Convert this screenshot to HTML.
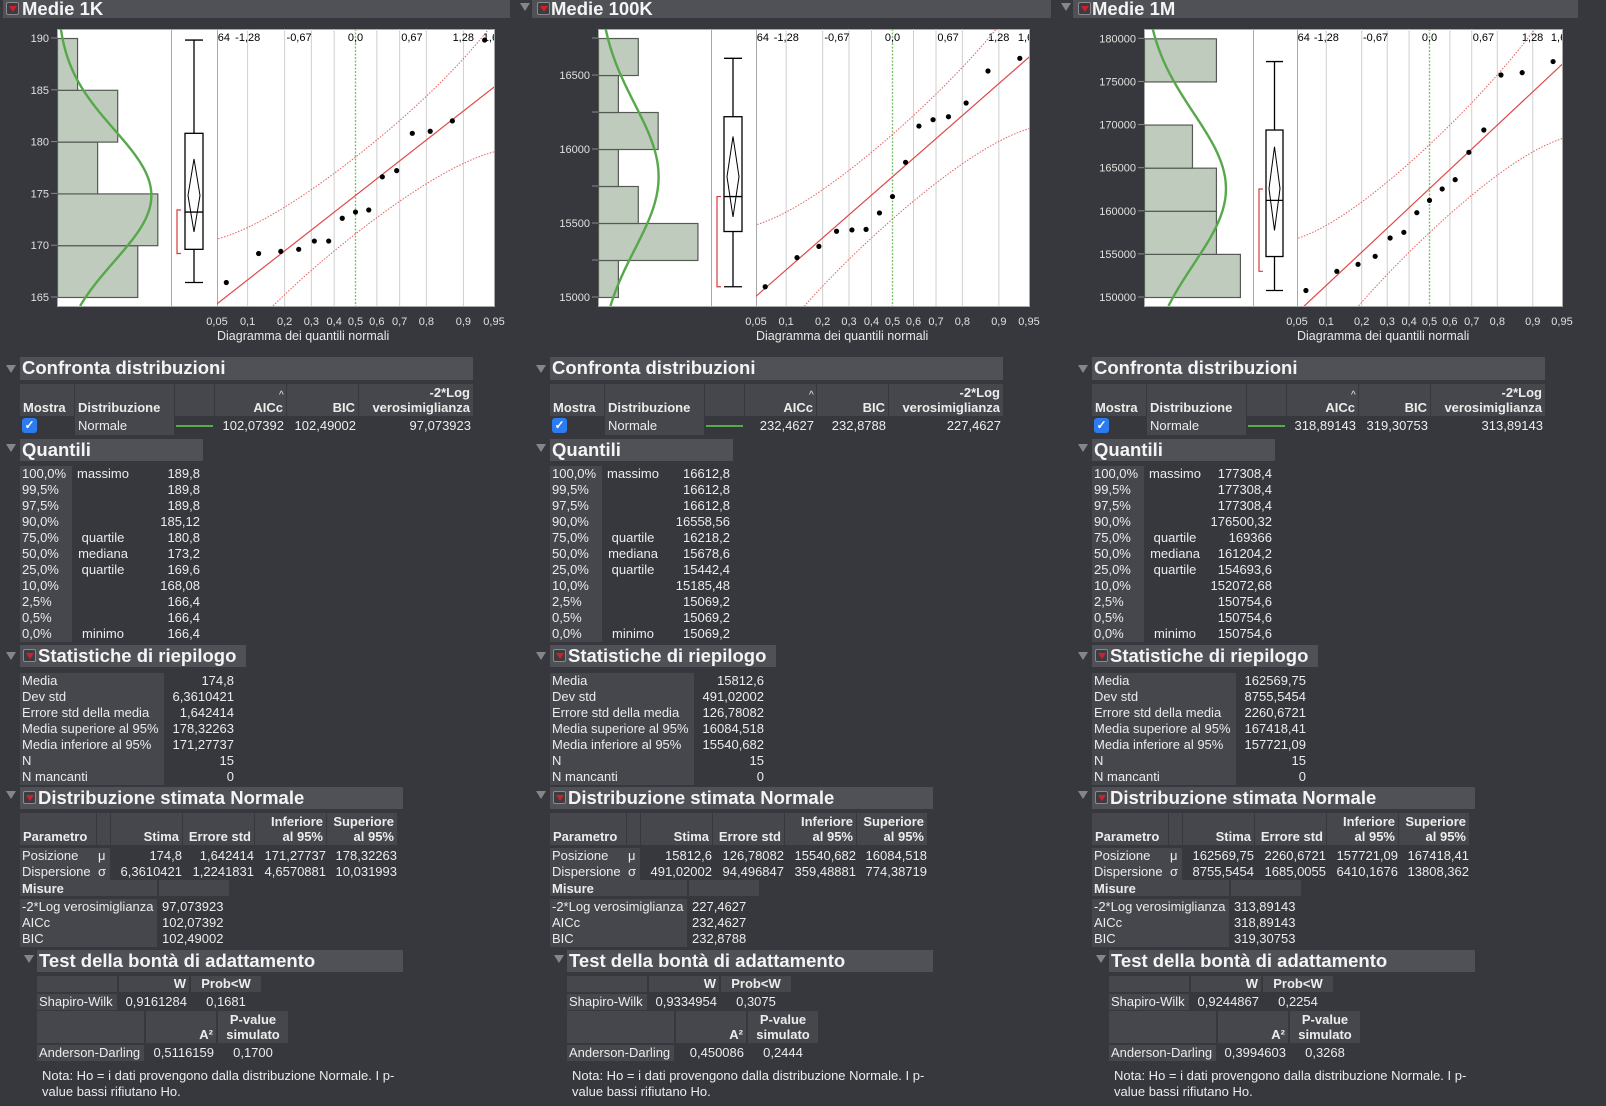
<!DOCTYPE html>
<html><head><meta charset="utf-8">
<style>
html,body{margin:0;padding:0;background:#37383d;width:1606px;height:1106px;overflow:hidden}
#root{position:relative;width:1606px;height:1106px}
svg#chart{position:absolute;left:0;top:0}
.a{position:absolute;box-sizing:border-box;white-space:nowrap;font:13px/16px "Liberation Sans",sans-serif;color:#ececec}
.hb{background:#505157;font-weight:bold;font-size:18.5px;line-height:22px;padding-left:2px;color:#f4f4f4}
.tb{background:#505157;font-weight:bold;font-size:18.5px;line-height:18px;padding-left:19px;color:#f4f4f4}
.hc{background:#46474c;font-weight:bold;display:flex;flex-direction:column;justify-content:flex-end;line-height:15px;padding:0 3px 1px 3px}
.lc{background:#46474c;padding-left:2px}
.r{text-align:right}.c{text-align:center}
.tri{width:0;height:0;border-left:5px solid transparent;border-right:5px solid transparent;border-top:8px solid #85868a}
.ico{border:1px solid #8a8a8e;background:#3c3c40;border-radius:2px}
.ico:after{content:"";position:absolute;left:2px;top:3px;border-left:4px solid transparent;border-right:4px solid transparent;border-top:6px solid #d0202a}
.chk{background:#2b7cf0;border-radius:3px;color:#fff;font-size:12px;line-height:14px;text-align:center;font-weight:bold}
</style></head>
<body>
<div id="root">
<svg id="chart" width="1606" height="1106"></svg>
</div>
<script>
// ---- data ----
const values1K = [166.4,169.2,169.4,169.6,170.4,170.4,172.6,173.2,173.4,176.6,177.2,180.8,181.0,182.0,189.8];
const values100K = [15069.2,15266,15342,15444,15453,15457,15568,15678.6,15910,16155,16198,16218.2,16311,16527,16612.8];
const values1M = [150754.6,152980,153790,154720,156840,157500,159780,161204.2,162530,163610,166780,169366,175750,176020,177308.4];
const yTicks1K = [165,170,175,180,185,190];
const yTicks100K = [15000,15500,16000,16500];
const yTicks1M = [150000,155000,160000,165000,170000,175000,180000];
const box1K = [166.4,169.6,173.2,180.8,189.8];
const box100K = [15069.2,15442.4,15678.6,16218.2,16612.8];
const box1M = [150754.6,154693.6,161204.2,169366,177308.4];
const ci1K = [171.27737,174.8,178.32263];
const ci100K = [15540.682,15812.6,16084.518];
const ci1M = [157721.09,162569.75,167418.41];
const fit1K = [174.8,6.3610421];
const fit100K = [15812.6,491.02002];
const fit1M = [162569.75,8755.5454];
const probTicks = [0.05,0.1,0.2,0.3,0.4,0.5,0.6,0.7,0.8,0.9,0.95];
const probLabels = ['0,05','0,1','0,2','0,3','0,4','0,5','0,6','0,7','0,8','0,9','0,95'];
const zTicks = [-1.64,-1.28,-0.67,0,0.67,1.28,1.64];
const zLabels = ['-1,64','-1,28','-0,67','0,0','0,67','1,28','1,64'];

const titles = ['Medie 1K','Medie 100K','Medie 1M'];
const quantPct = ['100,0%','99,5%','97,5%','90,0%','75,0%','50,0%','25,0%','10,0%','2,5%','0,5%','0,0%'];
const quantLbl = ['massimo','','','','quartile','mediana','quartile','','','','minimo'];
const quant1K = ['189,8','189,8','189,8','185,12','180,8','173,2','169,6','168,08','166,4','166,4','166,4'];
const quant100K = ['16612,8','16612,8','16612,8','16558,56','16218,2','15678,6','15442,4','15185,48','15069,2','15069,2','15069,2'];
const quant1M = ['177308,4','177308,4','177308,4','176500,32','169366','161204,2','154693,6','152072,68','150754,6','150754,6','150754,6'];
const statLbl = ['Media','Dev std','Errore std della media','Media superiore al 95%','Media inferiore al 95%','N','N mancanti'];
const stat1K = ['174,8','6,3610421','1,642414','178,32263','171,27737','15','0'];
const stat100K = ['15812,6','491,02002','126,78082','16084,518','15540,682','15','0'];
const stat1M = ['162569,75','8755,5454','2260,6721','167418,41','157721,09','15','0'];
const cmp1K = ['102,07392','102,49002','97,073923'];
const cmp100K = ['232,4627','232,8788','227,4627'];
const cmp1M = ['318,89143','319,30753','313,89143'];
const pos1K = ['174,8','1,642414','171,27737','178,32263'];
const disp1K = ['6,3610421','1,2241831','4,6570881','10,031993'];
const pos100K = ['15812,6','126,78082','15540,682','16084,518'];
const disp100K = ['491,02002','94,496847','359,48881','774,38719'];
const pos1M = ['162569,75','2260,6721','157721,09','167418,41'];
const disp1M = ['8755,5454','1685,0055','6410,1676','13808,362'];
const sw1K = ['0,9161284','0,1681'];
const sw100K = ['0,9334954','0,3075'];
const sw1M = ['0,9244867','0,2254'];
const ad1K = ['0,5116159','0,1700'];
const ad100K = ['0,450086','0,2444'];
const ad1M = ['0,3994603','0,3268'];

// ---- layout ----
const Y0 = 29, Y1 = 306;
const layouts = [
 {fl:57, hr:171, br:217, fr:494, bx0:185, bx1:203, bk:177, yMin:164.13, yMax:190.87, bin0:165, binW:5, minor:0, hx:3, hw:507, ix:6},
 {fl:598, hr:711, br:756, fr:1029, bx0:724, bx1:742, bk:717, yMin:14939, yMax:16811, bin0:15000, binW:250, minor:250, hx:532, hw:519, ix:537},
 {fl:1144, hr:1253, br:1297, fr:1562, bx0:1266, bx1:1283, bk:1259, yMin:148956, yMax:181083, bin0:150000, binW:5000, minor:0, hx:1073, hw:505, ix:1078}
];

function qnorm(p){
 const a=[-3.969683028665376e+01,2.209460984245205e+02,-2.759285104469687e+02,1.383577518672690e+02,-3.066479806614716e+01,2.506628277459239e+00];
 const b=[-5.447609879822406e+01,1.615858368580409e+02,-1.556989798598866e+02,6.680131188771972e+01,-1.328068155288572e+01];
 const c=[-7.784894002430293e-03,-3.223964580411365e-01,-2.400758277161838e+00,-2.549732539343734e+00,4.374664141464968e+00,2.938163982698783e+00];
 const d=[7.784695709041462e-03,3.224671290700398e-01,2.445134137142996e+00,3.754408661907416e+00];
 const pl=0.02425;
 if(p<pl){const q=Math.sqrt(-2*Math.log(p));return (((((c[0]*q+c[1])*q+c[2])*q+c[3])*q+c[4])*q+c[5])/((((d[0]*q+d[1])*q+d[2])*q+d[3])*q+1);}
 if(p<=1-pl){const q=p-0.5,r=q*q;return (((((a[0]*r+a[1])*r+a[2])*r+a[3])*r+a[4])*r+a[5])*q/(((((b[0]*r+b[1])*r+b[2])*r+b[3])*r+b[4])*r+1);}
 const q=Math.sqrt(-2*Math.log(1-p));return -(((((c[0]*q+c[1])*q+c[2])*q+c[3])*q+c[4])*q+c[5])/((((d[0]*q+d[1])*q+d[2])*q+d[3])*q+1);
}
const NS='http://www.w3.org/2000/svg';
const svg=document.getElementById('chart');
function S(tag,attrs,parent){const e=document.createElementNS(NS,tag);for(const k in attrs)e.setAttribute(k,attrs[k]);(parent||svg).appendChild(e);return e;}
const defs=S('defs',{});

function drawChart(i, L, values, yTicks, box, ci, fit){
 const g=S('g',{});
 
 
 const yS=v=>Y0+(L.yMax-v)/(L.yMax-L.yMin)*(Y1-Y0);
 const zMax=qnorm(0.95), zMin=qnorm(0.05);
 const xZ=z=>L.br+(z-zMin)/(zMax-zMin)*(L.fr-L.br);
 const cpF=S('clipPath',{id:'cf'+i},defs); S('rect',{x:L.fl,y:Y0,width:L.fr-L.fl,height:Y1-Y0},cpF);
 const cpQ=S('clipPath',{id:'cq'+i},defs); S('rect',{x:L.br,y:Y0,width:L.fr-L.br,height:Y1-Y0},cpQ);
 const frame=S('rect',{x:L.fl+0.5,y:Y0+0.5,width:L.fr-L.fl,height:Y1-Y0,fill:'#fff',stroke:'#a8a8a8'},g);
 
 
 const n=values.length, nb=Math.ceil((Math.max(...values)-L.bin0)/L.binW);
 const counts=new Array(nb).fill(0);
 values.forEach(v=>{let k=Math.floor((v-L.bin0)/L.binW);if(k>=nb)k=nb-1;if(k<0)k=0;counts[k]++;});
 const cPx=0.88*(L.hr-L.fl)/Math.max(...counts);
 const hg=S('g',{'clip-path':'url(#cf'+i+')'},g);
 counts.forEach((c,k)=>{ if(!c) return;
  const r=S('rect',{x:L.fl+0.5,y:yS(L.bin0+(k+1)*L.binW)+0.5,width:c*cPx,height:yS(L.bin0+k*L.binW)-yS(L.bin0+(k+1)*L.binW),fill:'#bfcbbd',stroke:'#555a55','stroke-width':1.2},hg);
  
  
 });
 let d='';
 for(let t=0;t<=120;t++){const v=L.yMin+(L.yMax-L.yMin)*t/120;const pdf=Math.exp(-0.5*((v-fit[0])/fit[1])**2)/(fit[1]*Math.sqrt(2*Math.PI));
  d+=(t?'L':'M')+(L.fl+cPx*n*L.binW*pdf).toFixed(2)+','+yS(v).toFixed(2);}
 const nc=S('path',{d:d,fill:'none',stroke:'#56a84a','stroke-width':2.4},hg);
 
 
 S('line',{x1:L.hr+0.5,x2:L.hr+0.5,y1:Y0,y2:Y1,stroke:'#a8a8a8'},g);
 S('line',{x1:L.br+0.5,x2:L.br+0.5,y1:Y0,y2:Y1,stroke:'#a8a8a8'},g);
 yTicks.forEach(t=>{const y=yS(t);
  S('line',{x1:L.fl-6,x2:L.fl,y1:y,y2:y,stroke:'#8a8a8a'},g);
  const tx=S('text',{x:L.fl-8,y:y+4,'text-anchor':'end','font-size':11,fill:'#e0e0e0','font-family':'Liberation Sans, sans-serif'},g);
  tx.textContent=t;  
  if(L.minor){const ym=yS(t+L.minor); if(ym>Y0) S('line',{x1:L.fl-6,x2:L.fl,y1:ym,y2:ym,stroke:'#8a8a8a'},g);
   const ym2=yS(t-L.minor); if(t===yTicks[0]&&ym2<Y1) S('line',{x1:L.fl-6,x2:L.fl,y1:ym2,y2:ym2,stroke:'#8a8a8a'},g);}
 });
 const bc=(L.bx0+L.bx1)/2, bg=S('g',{stroke:'#000','stroke-width':1.3,fill:'none'},g);
 
 
 S('line',{x1:bc,x2:bc,y1:yS(box[0]),y2:yS(box[1])},bg);
 S('line',{x1:bc,x2:bc,y1:yS(box[3]),y2:yS(box[4])},bg);
 S('line',{x1:L.bx0,x2:L.bx1,y1:yS(box[0]),y2:yS(box[0])},bg);
 S('line',{x1:L.bx0,x2:L.bx1,y1:yS(box[4]),y2:yS(box[4])},bg);
 S('rect',{x:L.bx0,y:yS(box[3]),width:L.bx1-L.bx0,height:yS(box[1])-yS(box[3])},bg);
 S('line',{x1:L.bx0,x2:L.bx1,y1:yS(box[2]),y2:yS(box[2])},bg);
 S('path',{d:`M${bc},${yS(ci[2])}L${L.bx1-3},${yS(ci[1])}L${bc},${yS(ci[0])}L${L.bx0+3},${yS(ci[1])}Z`,'stroke-width':1},bg);
 const sv=[...values].sort((a,b)=>a-b), h=Math.ceil(n/2); let best=0;
 for(let k=0;k+h-1<n;k++) if(sv[k+h-1]-sv[k]<sv[best+h-1]-sv[best]) best=k;
 const sh=S('path',{d:`M${L.bk+4},${yS(sv[best+h-1])}H${L.bk}V${yS(sv[best])}H${L.bk+4}`,fill:'none',stroke:'#d83a3a','stroke-width':1.2},g);
 
 
 probTicks.forEach(p=>{ if(p<0.07||p>0.93) return; const x=xZ(qnorm(p));
  S('line',{x1:x,x2:x,y1:Y0,y2:Y1,stroke:p===0.5?'none':'#cfcfcf'},g);});
 S('line',{x1:xZ(0),x2:xZ(0),y1:Y0,y2:Y1,stroke:'#7cc36e','stroke-dasharray':'2,1.5','stroke-width':1.4},g);
 const qg=S('g',{'clip-path':'url(#cq'+i+')'},g);
 
 
 zTicks.forEach((z,k)=>{const t=S('text',{x:xZ(z),y:Y0+12,'text-anchor':'middle','font-size':11,fill:'#000','font-family':'Liberation Sans, sans-serif'},qg);t.textContent=zLabels[k];});
 let up='',lo='';
 for(let t=0;t<=80;t++){const z=zMin-0.02+(zMax-zMin+0.04)*t/80;const p=Math.min(0.999,Math.max(0.001,0.5*(1+Math.tanh(z*0.7978845608*(1+0.044715*z*z)))));
  const phi=Math.exp(-z*z/2)/Math.sqrt(2*Math.PI);const hw=1.8*fit[1]*Math.sqrt(p*(1-p))/phi/Math.sqrt(n);
  up+=(t?'L':'M')+xZ(z).toFixed(2)+','+yS(fit[0]+fit[1]*z+hw).toFixed(2);
  lo+=(t?'L':'M')+xZ(z).toFixed(2)+','+yS(fit[0]+fit[1]*z-hw).toFixed(2);}
 S('path',{d:up,fill:'none',stroke:'#e46060','stroke-dasharray':'1.5,1.5','stroke-width':1},qg);
 S('path',{d:lo,fill:'none',stroke:'#e46060','stroke-dasharray':'1.5,1.5','stroke-width':1},qg);
 const fl=S('line',{x1:xZ(zMin-0.1),y1:yS(fit[0]+fit[1]*(zMin-0.1)),x2:xZ(zMax+0.1),y2:yS(fit[0]+fit[1]*(zMax+0.1)),stroke:'#e04848','stroke-width':1.2},qg);
 
 
 sv.forEach((v,k)=>{const c=S('circle',{cx:xZ(qnorm((k+1)/(n+1))),cy:yS(v),r:2.6,fill:'#000'},qg);
  
  });
 probTicks.forEach((p,k)=>{const t=S('text',{x:xZ(qnorm(p)),y:325,'text-anchor':'middle','font-size':11,fill:'#e0e0e0','font-family':'Liberation Sans, sans-serif'},g);
  t.textContent=probLabels[k];  });
 const xt=S('text',{x:L.br,y:340,'font-size':12.5,fill:'#e8e8e8','font-family':'Liberation Sans, sans-serif'},g);
 xt.textContent='Diagramma dei quantili normali';
 
 
}
drawChart(0,layouts[0],values1K,yTicks1K,box1K,ci1K,fit1K);
drawChart(1,layouts[1],values100K,yTicks100K,box100K,ci100K,fit100K);
drawChart(2,layouts[2],values1M,yTicks1M,box1M,ci1M,fit1M);

// ---- tables ----
const root=document.getElementById('root');
function D(x,y,w,h,cls,html){const d=document.createElement('div');d.className='a '+(cls||'');d.style.cssText=`left:${x}px;top:${y}px;width:${w}px;height:${h}px`;if(html!=null)d.innerHTML=html;root.appendChild(d);return d;}
function tri(x,y){const t=D(x,y,10,8,'tri');return t;}
function ico(x,y){const t=D(x,y,13,13,'ico');return t;}

const quants=[quant1K,quant100K,quant1M], stats=[stat1K,stat100K,stat1M], cmps=[cmp1K,cmp100K,cmp1M];
const poss=[pos1K,pos100K,pos1M], disps=[disp1K,disp100K,disp1M], sws=[sw1K,sw100K,sw1M], ads=[ad1K,ad100K,ad1M];
const offs=[0,530,1072];

for(let i=0;i<3;i++){
 const L=layouts[i], o=offs[i];
 if(i>0) tri(L.hx-12,3);
 const tb=D(L.hx,0,L.hw,18,'tb',titles[i]);
 
 
 ico(L.ix,2);
 tri(o+6,365);
 const h1=D(o+20,357,453,23,'hb','Confronta distribuzioni');
 
 
 const ch=[[20,54,'Mostra',''],[75,99,'Distribuzione',''],[175,39,'',''],[215,71,'AICc','r'],[287,71,'BIC','r'],[359,114,'-2*Log<br>verosimiglianza','r']];
 ch.forEach(c=>{const e=D(o+c[0],384,c[1],32,'hc '+c[3],'<div>'+c[2]+'</div>');
  
  });
 D(o+279,386,8,10,'','<span style="font-size:10px;line-height:10px">^</span>');
 const cb=D(o+22,418,15,15,'chk','✓');
 
 
 D(o+75,416,99,19,'lc','<span style="line-height:19px;padding-left:1px">Normale</span>');
 const gl=D(o+176,425,37,2,'');gl.style.background='#58a84c';
 
 
 D(o+215,416,69,19,'r',`<span style="line-height:19px">${cmps[i][0]}</span>`);
 D(o+287,416,69,19,'r',`<span style="line-height:19px">${cmps[i][1]}</span>`);
 D(o+359,416,112,19,'r',`<span style="line-height:19px">${cmps[i][2]}</span>`);
 tri(o+6,444);
 const h2=D(o+20,439,183,22,'hb','Quantili');
 
 
 D(o+20,466,52,176,'lc');
 quantPct.forEach((p,k)=>{const y=466+k*16;
  const r=D(o+22,y,48,16,'',p);
  
  
  D(o+72,y,62,16,'c',quantLbl[k]);
  D(o+134,y,66,16,'r',quants[i][k]);});
 tri(o+6,652);
 const h3=D(o+20,645,226,22,'hb','<span style="padding-left:16px">Statistiche di riepilogo</span>');
 
 
 ico(o+23,649);
 D(o+20,673,144,112,'lc');
 statLbl.forEach((s,k)=>{const y=673+k*16;
  const r=D(o+22,y,140,16,'',s);
  
  
  D(o+164,y,70,16,'r',stats[i][k]);});
 tri(o+6,791);
 const h4=D(o+20,787,383,22,'hb','<span style="padding-left:16px">Distribuzione stimata Normale</span>');
 
 
 ico(o+23,791);
 const ph=[[20,76,'Parametro',''],[97,13,'',''],[111,71,'Stima','r'],[183,71,'Errore std','r'],[255,71,'Inferiore<br>al 95%','r'],[327,70,'Superiore<br>al 95%','r']];
 ph.forEach(c=>{const e=D(o+c[0],813,c[1],32,'hc '+c[3],'<div>'+c[2]+'</div>');
  
  });
 D(o+20,848,90,32,'lc');
 [[ 'Posizione','μ',poss[i]],['Dispersione','σ',disps[i]]].forEach((r,k)=>{const y=848+k*16;
  const e=D(o+22,y,76,16,'',r[0]);
  
  
  D(o+98,y,12,16,'',r[1]);
  [111,183,255,327].forEach((x,j)=>D(o+x,y,x===327?70:71,16,'r',r[2][j]));});
 const mh=D(o+20,880,137,16,'hc','<div>Misure</div>');mh.style.padding='0 2px';
 D(o+159,880,70,16,'hc');
 D(o+20,899,137,48,'lc');
 ['-2*Log verosimiglianza','AICc','BIC'].forEach((s,k)=>{const y=899+k*16;
  const e=D(o+22,y,135,16,'',s);
  
  
  D(o+162,y,70,16,'',[cmps[i][2],cmps[i][0],cmps[i][1]][k]);});
 tri(o+24,955);
 const h5=D(o+37,950,366,22,'hb','Test della bontà di adattamento');
 
 
 D(o+37,976,80,16,'hc');
 D(o+119,976,70,16,'hc r','<div>W</div>');
 D(o+191,976,70,16,'hc c','<div>Prob&lt;W</div>');
 const sr=D(o+37,994,80,16,'lc','Shapiro-Wilk');
 
 
 D(o+119,994,68,16,'r',sws[i][0]);
 D(o+191,994,70,16,'c',sws[i][1]);
 D(o+37,1011,107,32,'hc');
 D(o+146,1011,70,32,'hc r','<div>A²</div>');
 D(o+218,1011,70,32,'hc c','<div>P-value<br>simulato</div>');
 const ar=D(o+37,1045,107,16,'lc','Anderson-Darling');
 
 
 D(o+146,1045,68,16,'r',ads[i][0]);
 D(o+218,1045,70,16,'c',ads[i][1]);
 const nt=D(o+42,1068,380,32,'','Nota: Ho = i dati provengono dalla distribuzione Normale. I p-<br>value bassi rifiutano Ho.');
 
 
}
</script>
</body></html>
